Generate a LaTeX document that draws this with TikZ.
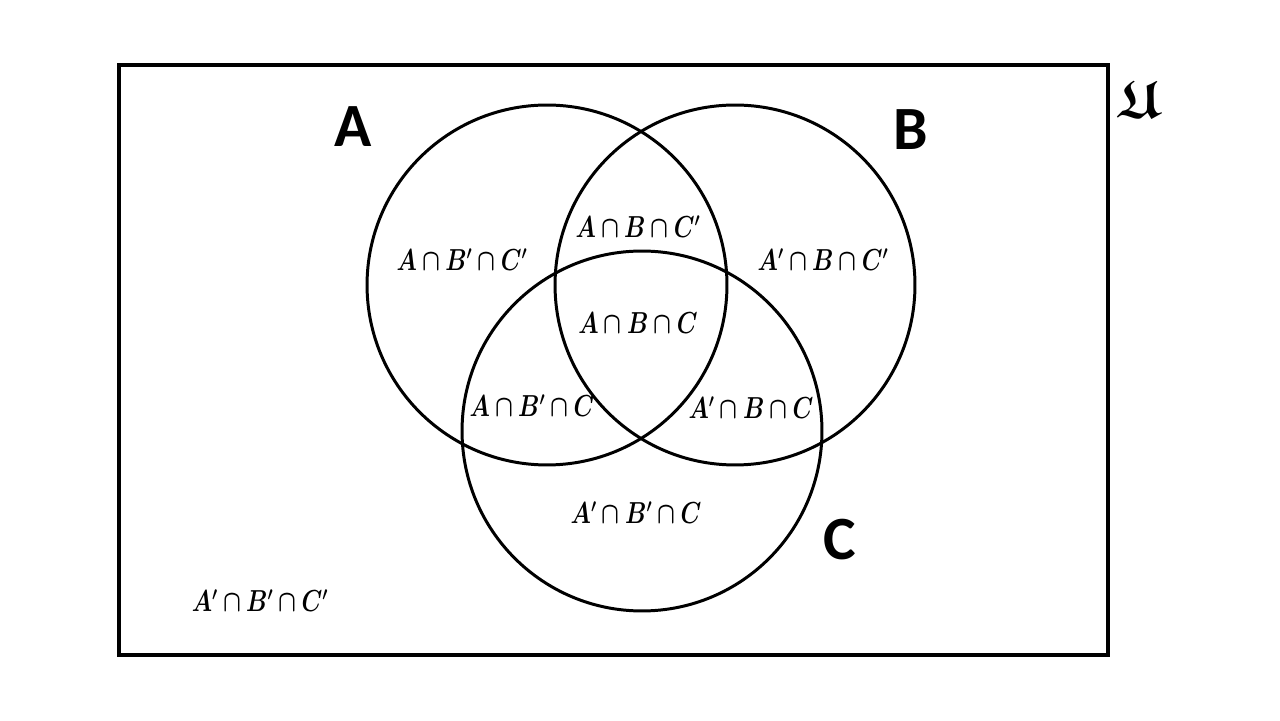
\documentclass[tikz,border=0pt]{standalone}
\usepackage{fontspec}
\usepackage{amsmath,amssymb,bm}
\newfontfamily\setnamefont{Carlito}

\begin{document}
\begin{tikzpicture}[x=0.02cm, y=0.02cm,
    setcircle/.style={circle, draw, line width=1.7pt, minimum size=7.2cm, inner sep=0pt},
    setname/.style={font=\setnamefont\bfseries\fontsize{35}{40}\selectfont},
    region/.style={font=\fontsize{16}{19}\selectfont, inner sep=0pt}]
    \useasboundingbox (0,0) rectangle (1280,720);

    % Universe
    \draw[line width=2.8pt] (119,65) rectangle (1108,655);
    \node (U) at (1139,621) {\fontsize{30}{30}\selectfont$\bm{\mathfrak{U}}$};

    % Sets
    \node[setcircle] (A) at (547,435) {};
    \node[setcircle] (B) at (735,435) {};
    \node[setcircle] (C) at (642,289) {};

    \node[setname] (nameA) at (353,593) {A};
    \node[setname] (nameB) at (911,590) {B};
    \node[setname] (nameC) at (840,180) {C};

    % Regions
    \foreach \name/\pos/\txt in {
        rA/{(462,460)}/{\bm{A\cap B'\cap C'}},
        rAB/{(638,493)}/{\bm{A\cap B\cap C'}},
        rB/{(823,460)}/{\bm{A'\cap B\cap C'}},
        rABC/{(638,397)}/{\bm{A\cap B\cap C}},
        rAC/{(532,314)}/{\bm{A\cap B'\cap C}},
        rBC/{(751,312)}/{\bm{A'\cap B\cap C}},
        rC/{(636,207)}/{\bm{A'\cap B'\cap C}},
        rOut/{(260,119)}/{\bm{A'\cap B'\cap C'}}} {
        \node[region] (\name) at \pos {\scalebox{0.77}[1]{$\txt$}};
    }
\end{tikzpicture}
\end{document}
